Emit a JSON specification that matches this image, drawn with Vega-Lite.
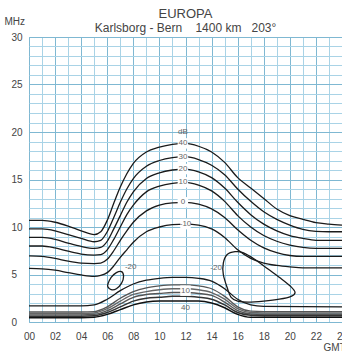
{
"$schema": "https://vega.github.io/schema/vega-lite/v6.json",
"width": 313, "height": 285,
"autosize": {"type": "none"},
"padding": {"left": 29, "top": 37, "right": 0, "bottom": 35},
"background": "white",
"config": {"view": {"stroke": "#7fb8d2"}, "font": "Liberation Sans"},
"title": {"text": "EUROPA", "subtitle": "Karlsborg\u00a0-\u00a0Bern\u00a0\u00a0\u00a0\u00a01400\u00a0km\u00a0\u00a0\u00a0203°", "fontSize": 13, "fontWeight": "normal", "color": "#444", "subtitleFontSize": 12, "subtitleColor": "#444", "subtitlePadding": 2, "offset": -18, "anchor": "middle", "frame": "group"},
"datasets": {
"main": [
{"c":"40","h":0,"f":10.7},{"c":"40","h":1,"f":10.7},{"c":"40","h":2,"f":10.5},{"c":"40","h":3,"f":10.1},{"c":"40","h":4,"f":9.6},{"c":"40","h":5,"f":9.2},{"c":"40","h":5.5,"f":9.5},{"c":"40","h":6,"f":10.7},{"c":"40","h":6.5,"f":12.5},{"c":"40","h":7,"f":14.2},{"c":"40","h":7.5,"f":15.6},{"c":"40","h":8,"f":16.7},{"c":"40","h":9,"f":17.9},{"c":"40","h":10,"f":18.4},{"c":"40","h":11,"f":18.7},{"c":"40","h":12,"f":18.8},{"c":"40","h":13,"f":18.5},{"c":"40","h":14,"f":17.9},{"c":"40","h":15,"f":16.8},{"c":"40","h":16,"f":15.2},{"c":"40","h":17,"f":14.1},{"c":"40","h":18,"f":13.0},{"c":"40","h":19,"f":11.9},{"c":"40","h":20,"f":11.2},{"c":"40","h":21,"f":10.8},{"c":"40","h":22,"f":10.45},{"c":"40","h":23,"f":10.3},{"c":"40","h":24,"f":10.2},
{"c":"30","h":0,"f":9.8},{"c":"30","h":1,"f":9.8},{"c":"30","h":2,"f":9.6},{"c":"30","h":3,"f":9.2},{"c":"30","h":4,"f":8.8},{"c":"30","h":5,"f":8.45},{"c":"30","h":5.5,"f":8.6},{"c":"30","h":6,"f":9.5},{"c":"30","h":6.5,"f":11.0},{"c":"30","h":7,"f":12.6},{"c":"30","h":7.5,"f":14.0},{"c":"30","h":8,"f":15.1},{"c":"30","h":9,"f":16.4},{"c":"30","h":10,"f":17.0},{"c":"30","h":11,"f":17.3},{"c":"30","h":12,"f":17.4},{"c":"30","h":13,"f":17.1},{"c":"30","h":14,"f":16.5},{"c":"30","h":15,"f":15.5},{"c":"30","h":16,"f":14.0},{"c":"30","h":17,"f":12.7},{"c":"30","h":18,"f":11.6},{"c":"30","h":19,"f":10.8},{"c":"30","h":20,"f":10.2},{"c":"30","h":21,"f":9.75},{"c":"30","h":22,"f":9.55},{"c":"30","h":23,"f":9.5},{"c":"30","h":24,"f":9.5},
{"c":"20","h":0,"f":8.9},{"c":"20","h":1,"f":8.9},{"c":"20","h":2,"f":8.7},{"c":"20","h":3,"f":8.3},{"c":"20","h":4,"f":7.95},{"c":"20","h":5,"f":7.75},{"c":"20","h":5.5,"f":7.85},{"c":"20","h":6,"f":8.5},{"c":"20","h":6.5,"f":9.8},{"c":"20","h":7,"f":11.2},{"c":"20","h":7.5,"f":12.6},{"c":"20","h":8,"f":13.7},{"c":"20","h":9,"f":15.1},{"c":"20","h":10,"f":15.7},{"c":"20","h":11,"f":16.0},{"c":"20","h":12,"f":16.1},{"c":"20","h":13,"f":15.8},{"c":"20","h":14,"f":15.2},{"c":"20","h":15,"f":14.1},{"c":"20","h":16,"f":12.6},{"c":"20","h":17,"f":11.3},{"c":"20","h":18,"f":10.3},{"c":"20","h":19,"f":9.6},{"c":"20","h":20,"f":9.1},{"c":"20","h":21,"f":8.8},{"c":"20","h":22,"f":8.6},{"c":"20","h":23,"f":8.6},{"c":"20","h":24,"f":8.6},
{"c":"10","h":0,"f":8.0},{"c":"10","h":1,"f":8.0},{"c":"10","h":2,"f":7.8},{"c":"10","h":3,"f":7.45},{"c":"10","h":4,"f":7.15},{"c":"10","h":5,"f":7.05},{"c":"10","h":5.5,"f":7.1},{"c":"10","h":6,"f":7.6},{"c":"10","h":6.5,"f":8.7},{"c":"10","h":7,"f":10.0},{"c":"10","h":7.5,"f":11.3},{"c":"10","h":8,"f":12.3},{"c":"10","h":9,"f":13.7},{"c":"10","h":10,"f":14.3},{"c":"10","h":11,"f":14.6},{"c":"10","h":12,"f":14.7},{"c":"10","h":13,"f":14.4},{"c":"10","h":14,"f":13.8},{"c":"10","h":15,"f":12.7},{"c":"10","h":16,"f":11.2},{"c":"10","h":17,"f":10.0},{"c":"10","h":18,"f":9.1},{"c":"10","h":19,"f":8.5},{"c":"10","h":20,"f":8.1},{"c":"10","h":21,"f":7.85},{"c":"10","h":22,"f":7.75},{"c":"10","h":23,"f":7.75},{"c":"10","h":24,"f":7.75},
{"c":"0","h":0,"f":6.95},{"c":"0","h":1,"f":6.9},{"c":"0","h":2,"f":6.7},{"c":"0","h":3,"f":6.4},{"c":"0","h":4,"f":6.2},{"c":"0","h":5,"f":6.15},{"c":"0","h":5.5,"f":6.2},{"c":"0","h":6,"f":6.6},{"c":"0","h":6.5,"f":7.5},{"c":"0","h":7,"f":8.6},{"c":"0","h":7.5,"f":9.6},{"c":"0","h":8,"f":10.5},{"c":"0","h":9,"f":11.7},{"c":"0","h":10,"f":12.3},{"c":"0","h":11,"f":12.55},{"c":"0","h":12,"f":12.6},{"c":"0","h":13,"f":12.4},{"c":"0","h":14,"f":11.9},{"c":"0","h":15,"f":11.0},{"c":"0","h":16,"f":9.7},{"c":"0","h":17,"f":8.6},{"c":"0","h":18,"f":7.8},{"c":"0","h":19,"f":7.3},{"c":"0","h":20,"f":7.0},{"c":"0","h":21,"f":6.9},{"c":"0","h":22,"f":6.9},{"c":"0","h":23,"f":6.9},{"c":"0","h":24,"f":6.9},
{"c":"-10","h":0,"f":5.65},{"c":"-10","h":1,"f":5.6},{"c":"-10","h":2,"f":5.45},{"c":"-10","h":3,"f":5.2},{"c":"-10","h":4,"f":4.95},{"c":"-10","h":5,"f":4.8},{"c":"-10","h":5.5,"f":4.9},{"c":"-10","h":6,"f":5.2},{"c":"-10","h":6.5,"f":5.9},{"c":"-10","h":7,"f":6.8},{"c":"-10","h":7.5,"f":7.6},{"c":"-10","h":8,"f":8.4},{"c":"-10","h":9,"f":9.5},{"c":"-10","h":10,"f":10.0},{"c":"-10","h":11,"f":10.25},{"c":"-10","h":12,"f":10.3},{"c":"-10","h":13,"f":10.2},{"c":"-10","h":14,"f":9.8},{"c":"-10","h":15,"f":8.9},{"c":"-10","h":16,"f":7.6},{"c":"-10","h":17,"f":6.7},{"c":"-10","h":18,"f":6.2},{"c":"-10","h":19,"f":5.95},{"c":"-10","h":20,"f":5.8},{"c":"-10","h":21,"f":5.7},{"c":"-10","h":22,"f":5.7},{"c":"-10","h":23,"f":5.7},{"c":"-10","h":24,"f":5.7}
],
"low": [
{"c":"b-10","h":0,"f":1.7},{"c":"b-10","h":4,"f":1.7},{"c":"b-10","h":5,"f":1.8},{"c":"b-10","h":6,"f":2.4},{"c":"b-10","h":7,"f":3.3},{"c":"b-10","h":8,"f":4.0},{"c":"b-10","h":9,"f":4.4},{"c":"b-10","h":10,"f":4.6},{"c":"b-10","h":11,"f":4.7},{"c":"b-10","h":12,"f":4.7},{"c":"b-10","h":13,"f":4.6},{"c":"b-10","h":14,"f":4.3},{"c":"b-10","h":15,"f":3.5},{"c":"b-10","h":16,"f":2.4},{"c":"b-10","h":17,"f":1.8},{"c":"b-10","h":18,"f":1.65},{"c":"b-10","h":24,"f":1.6},
{"c":"b0","h":0,"f":1.05},{"c":"b0","h":4,"f":1.05},{"c":"b0","h":5,"f":1.1},{"c":"b0","h":6,"f":1.6},{"c":"b0","h":7,"f":2.5},{"c":"b0","h":8,"f":3.2},{"c":"b0","h":9,"f":3.6},{"c":"b0","h":10,"f":3.8},{"c":"b0","h":11,"f":3.9},{"c":"b0","h":12,"f":3.9},{"c":"b0","h":13,"f":3.8},{"c":"b0","h":14,"f":3.5},{"c":"b0","h":15,"f":2.7},{"c":"b0","h":16,"f":1.6},{"c":"b0","h":17,"f":1.15},{"c":"b0","h":18,"f":1.1},{"c":"b0","h":24,"f":1.1},
{"c":"b10","h":0,"f":0.9},{"c":"b10","h":4,"f":0.9},{"c":"b10","h":5,"f":0.95},{"c":"b10","h":6,"f":1.4},{"c":"b10","h":7,"f":2.2},{"c":"b10","h":8,"f":2.9},{"c":"b10","h":9,"f":3.2},{"c":"b10","h":10,"f":3.4},{"c":"b10","h":11,"f":3.5},{"c":"b10","h":12,"f":3.5},{"c":"b10","h":13,"f":3.4},{"c":"b10","h":14,"f":3.1},{"c":"b10","h":15,"f":2.4},{"c":"b10","h":16,"f":1.4},{"c":"b10","h":17,"f":1.0},{"c":"b10","h":18,"f":0.95},{"c":"b10","h":24,"f":0.95},
{"c":"b20","h":0,"f":0.75},{"c":"b20","h":4,"f":0.75},{"c":"b20","h":5,"f":0.8},{"c":"b20","h":6,"f":1.2},{"c":"b20","h":7,"f":1.9},{"c":"b20","h":8,"f":2.6},{"c":"b20","h":9,"f":2.9},{"c":"b20","h":10,"f":3.0},{"c":"b20","h":11,"f":3.1},{"c":"b20","h":12,"f":3.1},{"c":"b20","h":13,"f":3.0},{"c":"b20","h":14,"f":2.8},{"c":"b20","h":15,"f":2.1},{"c":"b20","h":16,"f":1.2},{"c":"b20","h":17,"f":0.85},{"c":"b20","h":18,"f":0.8},{"c":"b20","h":24,"f":0.8},
{"c":"b30","h":0,"f":0.6},{"c":"b30","h":4,"f":0.6},{"c":"b30","h":5,"f":0.65},{"c":"b30","h":6,"f":1.0},{"c":"b30","h":7,"f":1.6},{"c":"b30","h":8,"f":2.2},{"c":"b30","h":9,"f":2.5},{"c":"b30","h":10,"f":2.6},{"c":"b30","h":11,"f":2.7},{"c":"b30","h":12,"f":2.7},{"c":"b30","h":13,"f":2.6},{"c":"b30","h":14,"f":2.4},{"c":"b30","h":15,"f":1.8},{"c":"b30","h":16,"f":1.0},{"c":"b30","h":17,"f":0.7},{"c":"b30","h":18,"f":0.65},{"c":"b30","h":24,"f":0.65},
{"c":"b40","h":0,"f":0.45},{"c":"b40","h":4,"f":0.45},{"c":"b40","h":5,"f":0.5},{"c":"b40","h":6,"f":0.8},{"c":"b40","h":7,"f":1.3},{"c":"b40","h":8,"f":1.8},{"c":"b40","h":9,"f":2.1},{"c":"b40","h":10,"f":2.2},{"c":"b40","h":11,"f":2.2},{"c":"b40","h":12,"f":2.2},{"c":"b40","h":13,"f":2.2},{"c":"b40","h":14,"f":2.0},{"c":"b40","h":15,"f":1.5},{"c":"b40","h":16,"f":0.8},{"c":"b40","h":17,"f":0.5},{"c":"b40","h":18,"f":0.5},{"c":"b40","h":24,"f":0.5}
],
"ovals": [
{"c":"L","i":1,"h":6.05,"f":4.0},{"c":"L","i":2,"h":6.3,"f":4.7},{"c":"L","i":3,"h":6.7,"f":5.2},{"c":"L","i":4,"h":7.1,"f":5.3},{"c":"L","i":5,"h":7.25,"f":4.8},{"c":"L","i":6,"h":7.1,"f":4.1},{"c":"L","i":7,"h":6.7,"f":3.5},{"c":"L","i":8,"h":6.3,"f":3.4},{"c":"L","i":9,"h":6.05,"f":3.7},
{"c":"R","i":1,"h":14.9,"f":6.2},{"c":"R","i":2,"h":15.2,"f":7.1},{"c":"R","i":3,"h":15.8,"f":7.4},{"c":"R","i":4,"h":16.4,"f":7.3},{"c":"R","i":5,"h":17.3,"f":6.6},{"c":"R","i":6,"h":18.3,"f":5.6},{"c":"R","i":7,"h":19.3,"f":4.6},{"c":"R","i":8,"h":20.1,"f":3.7},{"c":"R","i":9,"h":20.4,"f":3.1},{"c":"R","i":10,"h":20.1,"f":2.7},{"c":"R","i":11,"h":19.2,"f":2.4},{"c":"R","i":12,"h":18.0,"f":2.2},{"c":"R","i":13,"h":16.8,"f":2.1},{"c":"R","i":14,"h":16.0,"f":2.2},{"c":"R","i":15,"h":15.5,"f":2.6},{"c":"R","i":16,"h":15.2,"f":3.6},{"c":"R","i":17,"h":14.9,"f":5.0}
],
"onlab": [
{"t":"40","h":11.8,"f":18.8},{"t":"30","h":11.8,"f":17.4},{"t":"20","h":11.8,"f":16.1},{"t":"10","h":11.8,"f":14.7},{"t":"0","h":11.8,"f":12.6},{"t":"-10","h":12.0,"f":10.3},{"t":"10","h":12.0,"f":3.3}
],
"offlab": [
{"t":"dB","h":11.8,"f":20.0},{"t":"-20","h":7.8,"f":5.8},{"t":"-20","h":14.35,"f":5.7},{"t":"40","h":12.0,"f":1.5}
]
},
"encoding": {
"x": {"field": "h", "type": "quantitative", "scale": {"domain": [0, 24], "nice": false, "zero": false},
"axis": {"values": [0,1,2,3,4,5,6,7,8,9,10,11,12,13,14,15,16,17,18,19,20,21,22,23,24], "grid": true, "gridColor": {"condition": {"test": "datum.value % 2 === 0", "value": "#7fb8d2"}, "value": "#a9d3e6"}, "gridWidth": 1, "ticks": false, "domain": false, "labelExpr": "datum.value % 2 === 0 ? (datum.value < 10 ? '0' + datum.value : '' + datum.value) : ''", "labelOverlap": false, "labelFlush": false, "labelFontSize": 10, "labelColor": "#444", "labelPadding": 9, "title": "GMT", "titleX": 294, "titleY": 20, "titleAlign": "left", "titleBaseline": "top", "titleFontWeight": "normal", "titleFontSize": 10, "titleColor": "#444"}},
"y": {"field": "f", "type": "quantitative", "scale": {"domain": [0, 30], "nice": false},
"axis": {"values": [0,1,2,3,4,5,6,7,8,9,10,11,12,13,14,15,16,17,18,19,20,21,22,23,24,25,26,27,28,29,30], "grid": true, "gridColor": {"condition": {"test": "datum.value % 5 === 0", "value": "#7fb8d2"}, "value": "#a9d3e6"}, "ticks": false, "domain": false, "labelExpr": "datum.value % 5 === 0 ? datum.label : ''", "labelOverlap": false, "labelFlush": false, "labelAlign": "left", "labelPadding": 18, "labelFontSize": 10, "labelColor": "#444", "title": "MHz", "titleAngle": 0, "titleX": -25, "titleY": -16, "titleAlign": "left", "titleBaseline": "middle", "titleFontWeight": "normal", "titleFontSize": 10, "titleColor": "#444"}}
},
"layer": [
{
"data": {"name": "main"},
"mark": {"type": "line", "interpolate": "monotone", "color": "#1a1a1a", "strokeWidth": 1.3},
"encoding": {"detail": {"field": "c"}}
},
{
"data": {"name": "low"},
"mark": {"type": "line", "interpolate": "monotone"},
"encoding": {
"detail": {"field": "c"},
"color": {"field": "c", "type": "nominal", "scale": {"domain": ["b-10","b0","b10","b20","b30","b40"], "range": ["#1a1a1a","#555","#666","#555","#333","#111"]}, "legend": null},
"strokeWidth": {"field": "c", "type": "nominal", "scale": {"domain": ["b-10","b0","b10","b20","b30","b40"], "range": [1.3,1.5,1.5,1.5,2,4]}, "legend": null}
}
},
{
"data": {"name": "ovals"},
"mark": {"type": "line", "interpolate": "cardinal-closed", "color": "#1a1a1a", "strokeWidth": 1.3},
"encoding": {
"detail": {"field": "c"},
"order": {"field": "i", "type": "quantitative"}
}
},
{
"data": {"name": "onlab"},
"mark": {"type": "point", "shape": "square", "filled": true, "color": "white", "opacity": 1, "size": 110}
},
{
"data": {"name": "onlab"},
"mark": {"type": "text", "fontSize": 8, "color": "#666"},
"encoding": {"text": {"field": "t"}}
},
{
"data": {"name": "offlab"},
"mark": {"type": "text", "fontSize": 8, "color": "#666"},
"encoding": {"text": {"field": "t"}}
}
]
}
